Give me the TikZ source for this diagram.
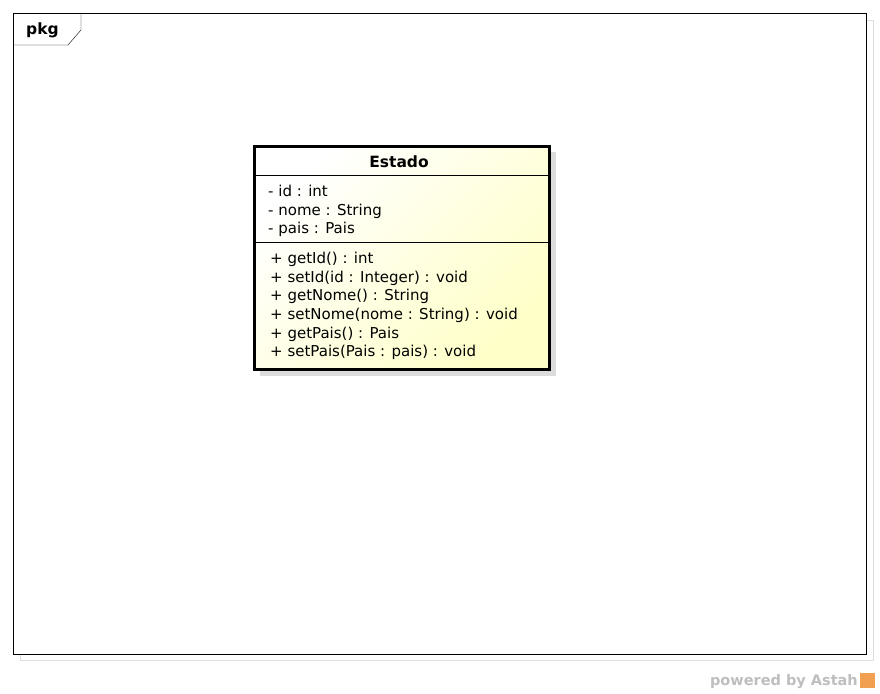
\documentclass[tikz,border=0pt]{standalone}
\usepackage{fontspec}
\setmainfont{DejaVu Sans}
\usetikzlibrary{positioning}
\definecolor{classyellow}{RGB}{255,255,200}
\definecolor{shadowgray}{RGB}{220,220,220}
\definecolor{framegray}{RGB}{222,222,222}
\definecolor{markgray}{RGB}{190,190,190}
\definecolor{astahorange}{RGB}{240,160,80}
\begin{document}
\begin{tikzpicture}[
    x=1pt, y=-1pt,
    classbox/.style={draw,line width=3pt,minimum width=295pt,minimum height=223pt,
        top color=white,bottom color=classyellow,shading angle=45},
    member/.style={anchor=base west,align=left,inner sep=0pt,
        font=\fontsize{15}{18.7}\selectfont},
    every node/.style={font=\fontsize{15}{18}\selectfont}
]
\useasboundingbox (0,0) rectangle (880,693);

% Ramka pakietu
\draw[framegray] (20,20) rectangle (873,660);
\draw[fill=white] (13,13) rectangle (866,654);
\draw (81,13) -- (81,30) -- (68,45) -- (13,45);
\node[anchor=base west,inner sep=0pt,font=\fontsize{15.5}{18}\selectfont\bfseries] (pkg) at (26,35) {pkg};

% Klasa Estado
\fill[shadowgray] (260,152) rectangle (556,376);
\node[classbox] (estado) at (401.5,257.5) {};
\node[anchor=base,inner sep=0pt,font=\fontsize{15.5}{18}\selectfont\bfseries] (titulo) at (399,167.3) {Estado};
\draw[line width=1pt] (estado.west |- 0,175) coordinate (s1) -- (estado.east |- 0,175);
\draw[line width=1pt] (estado.west |- 0,242) coordinate (s2) -- (estado.east |- 0,242);
% (base = linha de base da ultima linha)
\node[member] (atributos) at (268,233.9) {- id : int\\- nome : String\\- pais : Pais};
\node[member] (metodos) at (270,356.8) {+ getId() : int\\+ setId(id : Integer) : void\\+ getNome() : String\\+ setNome(nome : String) : void\\+ getPais() : Pais\\+ setPais(Pais : pais) : void};

% Marca
\node[anchor=base east,inner sep=0pt,text=markgray,font=\fontsize{14.5}{18}\selectfont\bfseries] (marca) at (858,685) {powered by Astah};
\fill[astahorange] (860,673) rectangle (875,688);
\end{tikzpicture}
\end{document}
